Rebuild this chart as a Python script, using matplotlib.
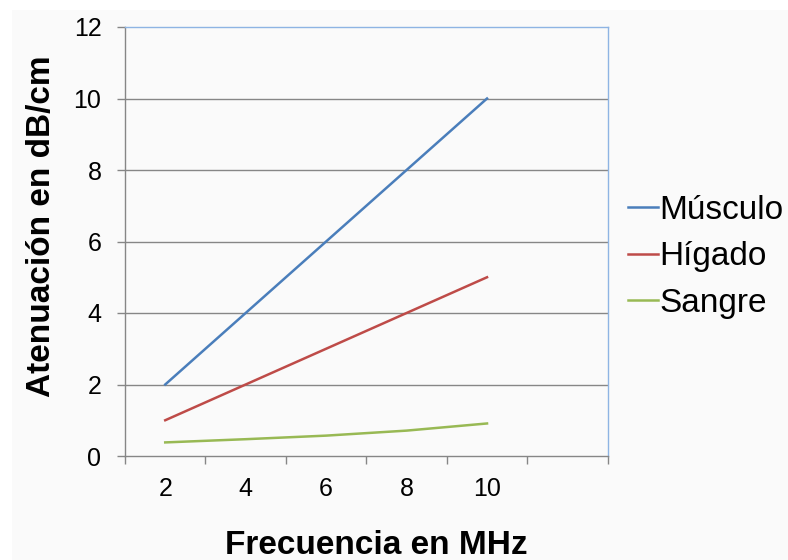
import numpy as np
import matplotlib
matplotlib.use("Agg")
import matplotlib.pyplot as plt
from matplotlib.patches import Rectangle

# Datos
frecuencias = ['2', '4', '6', '8', '10']
musculo = [2, 4, 6, 8, 10]
higado = [1, 2, 3, 4, 5]
sangre = [0.38, 0.47, 0.57, 0.71, 0.91]
yticks = [0, 2, 4, 6, 8, 10, 12]
n_slots = 6  # una categoria vacia al final

plt.rcParams['font.family'] = ['Liberation Sans', 'DejaVu Sans']

fig = plt.figure(figsize=(7.88, 5.6), dpi=100)
fig.patch.set_facecolor('white')
# fondo gris claro
fig.patches.append(Rectangle((12/788, 0), 1 - 12/788, 1 - 10/560,
                             transform=fig.transFigure, facecolor='#fafafa',
                             edgecolor='none', zorder=-10))

ax = fig.add_axes([125/788, 1 - 456/560, (607.7 - 125)/788, (456 - 27)/560])
ax.set_facecolor('#fafafa')

x = np.arange(len(frecuencias))
ax.plot(x, musculo, color='#4a7ebb', lw=1.8, label='Músculo')
ax.plot(x, higado, color='#be4b48', lw=1.8, label='Hígado')
ax.plot(x, sangre, color='#98b954', lw=1.8, label='Sangre')

ax.set_xlim(-0.5, n_slots - 0.5)
ax.set_ylim(0, 12)

# ticks en los bordes de categoria, etiquetas en el centro
ax.set_xticks(np.arange(n_slots + 1) - 0.5)
ax.set_xticklabels([])
ax.set_xticks(x, minor=True)
ax.set_xticklabels(frecuencias, minor=True, fontsize=18)
ax.tick_params(axis='x', which='major', length=6, width=1, color='#868686', direction='out')
ax.tick_params(axis='x', which='minor', length=0, pad=15)

ax.set_yticks(yticks)
ax.set_yticklabels([str(v) for v in yticks], fontsize=18)
ax.tick_params(axis='y', length=6, width=1, color='#868686', direction='out', pad=11)

for v in yticks[1:-1]:
    ax.axhline(v, color='#868686', lw=1, zorder=0)

ax.spines['left'].set_color('#868686')
ax.spines['bottom'].set_color('#868686')
ax.spines['top'].set_color('#8eb4e3')
ax.spines['right'].set_color('#8eb4e3')
for s in ax.spines.values():
    s.set_linewidth(1)

fig.text(42/788, 1 - 226/560, 'Atenuación en dB/cm', rotation=90, fontsize=24,
         fontweight='bold', ha='center', va='center')
fig.text(376/788, 1 - 546/560, 'Frecuencia en MHz', fontsize=24,
         fontweight='bold', ha='center', va='center')

fig.legend(loc='center left', bbox_to_anchor=(628/788, 1 - 257/560), frameon=False,
           fontsize=24, handlelength=0.9, handletextpad=0.05, labelspacing=0.47,
           borderaxespad=0, borderpad=0)

fig.savefig('out.png', dpi=100)
